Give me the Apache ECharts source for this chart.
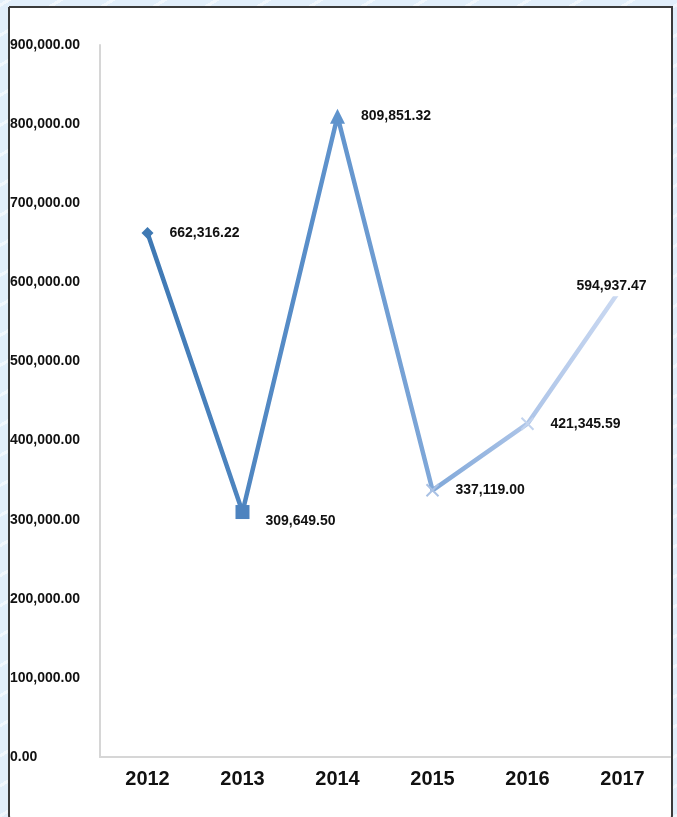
<!DOCTYPE html>
<html>
<head>
<meta charset="utf-8">
<script src="https://cdn.jsdelivr.net/npm/echarts@6/dist/echarts.min.js"></script>
<style>
  html, body { margin: 0; padding: 0; }
  body {
    width: 677px; height: 817px; overflow: hidden;
    background-color: #e1eefa;
    background-image: repeating-linear-gradient(-30deg, rgba(255,255,255,0.55) 0px, rgba(255,255,255,0.55) 3px, rgba(255,255,255,0) 3px, rgba(255,255,255,0) 26px);
  }
  #chart { width: 677px; height: 817px; }
</style>
</head>
<body>
<div id="chart"></div>
<script>
// Yearly totals
const years = ['2012', '2013', '2014', '2015', '2016', '2017'];
const totals = [662316.22, 309649.50, 809851.32, 337119.00, 421345.59, 594937.47];
const yTicks = [0, 100000, 200000, 300000, 400000, 500000, 600000, 700000, 800000, 900000];

// Marker per year (the last point sits under its own label)
const markerShapes = ['diamond', 'rect', 'triangle',
  'path://M0,0L2,2M2,0L0,2Z', 'path://M0,0L2,2M2,0L0,2Z', 'circle'];
const markerSizes = [12, 14, 15, 12, 12, 2];
const markerColors = ['#3f79b3', '#4d83bf', '#5f93cc', '#a9c1e4', '#c2d3ee', '#c9d8f1'];

const fmt = v => v.toLocaleString('en-US', { minimumFractionDigits: 2, maximumFractionDigits: 2 });

const labelFont = {
  fontFamily: 'Liberation Sans, Arial, sans-serif',
  fontWeight: 'bold',
  color: '#111'
};

const points = totals.map((v, i) => {
  const p = {
    value: v,
    symbol: markerShapes[i],
    symbolSize: markerSizes[i],
    itemStyle: { color: markerColors[i], borderColor: markerColors[i], borderWidth: (i === 3 || i === 4) ? 2 : 0 }
  };
  if (i === 1) p.label = { offset: [0, 9] };
  if (i === 5) p.label = { position: 'inside', offset: [-11, 0] };
  return p;
});

const chart = echarts.init(document.getElementById('chart'), null, { renderer: 'canvas' });
chart.setOption({
  animation: false,
  backgroundColor: 'transparent',
  graphic: [{
    type: 'rect',
    shape: { x: 9, y: 7, width: 663, height: 820, r: [0, 0, 12, 12] },
    style: { fill: '#ffffff', stroke: '#3a3a3a', lineWidth: 2 },
    z: -10
  }],
  grid: { left: 100, right: 7, top: 45, bottom: 60 },
  xAxis: {
    type: 'category',
    data: years,
    boundaryGap: true,
    axisLine: { show: true, lineStyle: { color: '#d6d6d6', width: 2 } },
    axisTick: { show: false },
    axisLabel: Object.assign({ fontSize: 20, margin: 12 }, labelFont),
    splitLine: { show: false }
  },
  yAxis: {
    type: 'value',
    min: yTicks[0],
    max: yTicks[yTicks.length - 1],
    interval: yTicks[1] - yTicks[0],
    axisLine: { show: true, lineStyle: { color: '#d6d6d6', width: 2 } },
    axisTick: { show: false },
    splitLine: { show: false },
    axisLabel: Object.assign({
      fontSize: 14, margin: 90, align: 'left',
      formatter: v => fmt(v)
    }, labelFont)
  },
  series: [{
    type: 'line',
    data: points,
    showAllSymbol: true,
    lineStyle: {
      width: 4.5,
      color: new echarts.graphic.LinearGradient(0, 0, 1, 0, [
        { offset: 0, color: '#3e78b3' },
        { offset: 0.35, color: '#5a8fca' },
        { offset: 0.6, color: '#80a8d9' },
        { offset: 0.8, color: '#aec5e8' },
        { offset: 1, color: '#ccdaf2' }
      ])
    },
    label: Object.assign({
      show: true,
      position: 'right',
      distance: 12,
      fontSize: 14,
      backgroundColor: '#ffffff',
      padding: [3, 4],
      formatter: p => fmt(p.value)
    }, labelFont),
    z: 3
  }]
});
</script>
</body>
</html>
